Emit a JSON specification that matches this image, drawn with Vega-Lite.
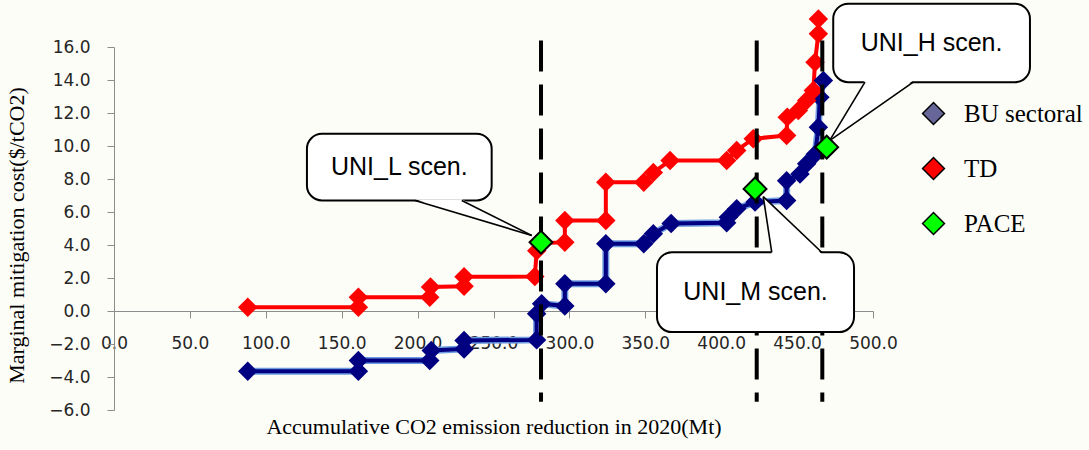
{
  "$schema": "https://vega.github.io/schema/vega-lite/v6.json",
  "width": 759,
  "height": 363,
  "autosize": {"type": "none"},
  "padding": {"left": 114, "top": 47, "right": 216, "bottom": 40},
  "background": "#fdfdf8",
  "config": {
    "view": {"stroke": null},
    "axis": {"grid": false, "labelOverlap": false, "labelFlush": false, "labelBound": false},
    "axisY": {"labelOverlap": false},
    "axisQuantitative": {"labelOverlap": false}
  },
  "datasets": {
    "series": [
      {"series": "BU sectoral", "i": 1, "x": 88.1, "y": -3.65},
      {"series": "BU sectoral", "i": 2, "x": 161.0, "y": -3.65},
      {"series": "BU sectoral", "i": 3, "x": 161.0, "y": -3.0},
      {"series": "BU sectoral", "i": 4, "x": 208.0, "y": -3.0},
      {"series": "BU sectoral", "i": 5, "x": 209.0, "y": -2.39},
      {"series": "BU sectoral", "i": 6, "x": 230.6, "y": -2.3},
      {"series": "BU sectoral", "i": 7, "x": 230.6, "y": -1.79},
      {"series": "BU sectoral", "i": 8, "x": 278.4, "y": -1.75},
      {"series": "BU sectoral", "i": 9, "x": 278.4, "y": -0.17},
      {"series": "BU sectoral", "i": 10, "x": 281.7, "y": 0.44},
      {"series": "BU sectoral", "i": 11, "x": 297.0, "y": 0.3},
      {"series": "BU sectoral", "i": 12, "x": 297.0, "y": 1.65},
      {"series": "BU sectoral", "i": 13, "x": 324.0, "y": 1.65},
      {"series": "BU sectoral", "i": 14, "x": 324.0, "y": 4.07},
      {"series": "BU sectoral", "i": 15, "x": 349.0, "y": 4.07},
      {"series": "BU sectoral", "i": 16, "x": 355.3, "y": 4.68},
      {"series": "BU sectoral", "i": 17, "x": 367.0, "y": 5.3},
      {"series": "BU sectoral", "i": 18, "x": 403.6, "y": 5.35},
      {"series": "BU sectoral", "i": 19, "x": 404.7, "y": 5.68},
      {"series": "BU sectoral", "i": 20, "x": 410.2, "y": 6.19},
      {"series": "BU sectoral", "i": 21, "x": 422.3, "y": 6.6},
      {"series": "BU sectoral", "i": 22, "x": 443.1, "y": 6.7},
      {"series": "BU sectoral", "i": 23, "x": 443.1, "y": 7.9},
      {"series": "BU sectoral", "i": 24, "x": 451.9, "y": 8.31},
      {"series": "BU sectoral", "i": 25, "x": 456.3, "y": 8.92},
      {"series": "BU sectoral", "i": 26, "x": 461.9, "y": 9.5},
      {"series": "BU sectoral", "i": 27, "x": 464.0, "y": 11.14},
      {"series": "BU sectoral", "i": 28, "x": 465.0, "y": 12.96},
      {"series": "BU sectoral", "i": 29, "x": 467.3, "y": 13.97},
      {"series": "TD", "i": 1, "x": 88.1, "y": 0.23},
      {"series": "TD", "i": 2, "x": 161.0, "y": 0.23},
      {"series": "TD", "i": 3, "x": 161.0, "y": 0.84},
      {"series": "TD", "i": 4, "x": 208.0, "y": 0.84},
      {"series": "TD", "i": 5, "x": 208.5, "y": 1.45},
      {"series": "TD", "i": 6, "x": 230.6, "y": 1.5},
      {"series": "TD", "i": 7, "x": 230.6, "y": 2.07},
      {"series": "TD", "i": 8, "x": 277.2, "y": 2.09},
      {"series": "TD", "i": 9, "x": 278.5, "y": 3.65},
      {"series": "TD", "i": 10, "x": 281.3, "y": 4.1},
      {"series": "TD", "i": 11, "x": 297.0, "y": 4.17},
      {"series": "TD", "i": 12, "x": 297.0, "y": 5.48},
      {"series": "TD", "i": 13, "x": 324.0, "y": 5.48},
      {"series": "TD", "i": 14, "x": 324.0, "y": 7.8},
      {"series": "TD", "i": 15, "x": 349.0, "y": 7.8},
      {"series": "TD", "i": 16, "x": 355.3, "y": 8.4},
      {"series": "TD", "i": 17, "x": 366.3, "y": 9.12},
      {"series": "TD", "i": 18, "x": 403.6, "y": 9.12},
      {"series": "TD", "i": 19, "x": 410.2, "y": 9.73},
      {"series": "TD", "i": 20, "x": 421.1, "y": 10.44},
      {"series": "TD", "i": 21, "x": 443.1, "y": 10.64},
      {"series": "TD", "i": 22, "x": 443.5, "y": 11.75},
      {"series": "TD", "i": 23, "x": 450.8, "y": 12.15},
      {"series": "TD", "i": 24, "x": 456.3, "y": 12.76},
      {"series": "TD", "i": 25, "x": 460.7, "y": 13.36},
      {"series": "TD", "i": 26, "x": 461.8, "y": 15.08},
      {"series": "TD", "i": 27, "x": 464.0, "y": 16.8},
      {"series": "TD", "i": 28, "x": 464.0, "y": 17.7}
    ],
    "pace": [
      {"series": "PACE", "x": 281.3, "y": 4.17},
      {"series": "PACE", "x": 422.3, "y": 7.4},
      {"series": "PACE", "x": 469.5, "y": 9.93}
    ],
    "vlines": [{"x": 281.3, "y": 16.4, "y2": -5.5}, {"x": 423.4, "y": 16.4, "y2": -5.5}, {"x": 466.6, "y": 16.4, "y2": -5.5}],
    "boxes": [
      {"id": "L", "x": 127.1, "x2": 248.8, "y": 10.74, "y2": 6.70, "label": "UNI_L scen."},
      {"id": "M", "x": 357.7, "x2": 487.5, "y": 3.56, "y2": -1.28, "label": "UNI_M scen."},
      {"id": "H", "x": 473.8, "x2": 603.4, "y": 18.62, "y2": 13.87, "label": "UNI_H scen."}
    ],
    "pointers": [
      {"id": "L", "x": 198.3, "y": 6.78, "y2": 6.78},
      {"id": "L", "x": 229.1, "y": 6.78, "y2": 5.9},
      {"id": "L", "x": 275.2, "y": 4.58, "y2": 4.58},
      {"id": "M", "x": 427.7, "y": 6.93, "y2": 6.93},
      {"id": "M", "x": 433.3, "y": 6.425, "y2": 3.46},
      {"id": "M", "x": 466.2, "y": 3.46, "y2": 3.46},
      {"id": "H", "x": 471.4, "y": 10.33, "y2": 10.33},
      {"id": "H", "x": 494.7, "y": 11.87, "y2": 13.97},
      {"id": "H", "x": 526.5, "y": 13.97, "y2": 13.97}
    ],
    "edges": [
      {"x": 198.3, "y": 6.70, "x2": 275.2, "y2": 4.58},
      {"x": 229.1, "y": 6.70, "x2": 275.2, "y2": 4.58},
      {"x": 433.3, "y": 3.56, "x2": 427.7, "y2": 6.93},
      {"x": 466.2, "y": 3.56, "x2": 427.7, "y2": 6.93},
      {"x": 494.7, "y": 13.87, "x2": 471.4, "y2": 10.33},
      {"x": 526.5, "y": 13.87, "x2": 471.4, "y2": 10.33}
    ]
  },
  "encoding": {
    "x": {
      "field": "x", "type": "quantitative",
      "scale": {"domain": [0, 500], "nice": false, "zero": false},
      "axis": {
        "title": "Accumulative CO2 emission reduction in 2020(Mt)",
        "values": [0, 50, 100, 150, 200, 250, 300, 350, 400, 450, 500],
        "format": ".1f", "offset": -99, "tickSize": 7, "labelPadding": 17,
        "labelFont": "DejaVu Sans", "labelFontSize": 17, "labelColor": "#262626",
        "labelFlush": false, "labelOverlap": false, "labelBaseline": "top",
        "domainColor": "#8c8c8c", "tickColor": "#8c8c8c",
        "titleFont": "Liberation Serif", "titleFontSize": 22, "titleFontWeight": "normal",
        "titleColor": "#000000", "titleY": 122, "titleBaseline": "alphabetic"
      }
    },
    "y": {
      "field": "y", "type": "quantitative",
      "scale": {"domain": [-6, 16], "nice": false, "zero": false},
      "axis": {
        "title": "Marginal mitigation cost($/tCO2)",
        "values": [-6, -4, -2, 0, 2, 4, 6, 8, 10, 12, 14, 16],
        "format": ".1f", "tickSize": 7, "labelPadding": 17,
        "labelFont": "DejaVu Sans", "labelFontSize": 17, "labelColor": "#262626",
        "labelFlush": false, "labelOverlap": false, "labelBound": false,
        "domainColor": "#8c8c8c", "tickColor": "#8c8c8c",
        "titleFont": "Liberation Serif", "titleFontSize": 22, "titleFontWeight": "normal",
        "titleColor": "#000000", "titleX": -91, "titleY": 188, "titleAngle": -90,
        "titleBaseline": "alphabetic"
      }
    }
  },
  "layer": [
    {
      "data": {"name": "series"},
      "transform": [{"filter": "datum.series === 'BU sectoral'"}],
      "mark": {"type": "line", "color": "#6f9be0", "strokeWidth": 7},
      "encoding": {"order": {"field": "i"}}
    },
    {
      "data": {"name": "series"},
      "transform": [{"filter": "datum.series === 'BU sectoral'"}],
      "mark": {"type": "line", "color": "#000080", "strokeWidth": 4},
      "encoding": {"order": {"field": "i"}}
    },
    {
      "data": {"name": "series"},
      "transform": [{"filter": "datum.series === 'TD'"}],
      "mark": {"type": "line", "color": "#ff0000", "strokeWidth": 4},
      "encoding": {"order": {"field": "i"}}
    },
    {
      "data": {"name": "series"},
      "transform": [{"filter": "datum.series === 'BU sectoral'"}],
      "mark": {"type": "point", "shape": "diamond", "filled": true, "opacity": 1, "color": "#000080", "size": 380}
    },
    {
      "data": {"name": "series"},
      "transform": [{"filter": "datum.series === 'TD'"}],
      "mark": {"type": "point", "shape": "diamond", "filled": true, "opacity": 1, "color": "#ff0000", "size": 380}
    },
    {
      "data": {"name": "vlines"},
      "mark": {"type": "rule", "color": "#000000", "strokeWidth": 4, "strokeDash": [31, 13]},
      "encoding": {"y2": {"field": "y2"}}
    },
    {
      "data": {"name": "boxes"},
      "mark": {"type": "rect", "fill": "#ffffff", "stroke": "#000000", "strokeWidth": 2, "cornerRadius": 15},
      "encoding": {"x2": {"field": "x2"}, "y2": {"field": "y2"}}
    },
    {
      "data": {"name": "pointers"},
      "mark": {"type": "area", "fill": "#ffffff", "opacity": 1},
      "encoding": {"y2": {"field": "y2"}, "detail": {"field": "id"}}
    },
    {
      "data": {"name": "edges"},
      "mark": {"type": "rule", "color": "#000000", "strokeWidth": 1.6},
      "encoding": {"x2": {"field": "x2"}, "y2": {"field": "y2"}}
    },
    {
      "data": {"name": "boxes"},
      "transform": [
        {"calculate": "(datum.x + datum.x2) / 2", "as": "x"},
        {"calculate": "(datum.y + datum.y2) / 2", "as": "y"}
      ],
      "mark": {"type": "text", "font": "Liberation Sans", "fontSize": 25, "color": "#000000", "align": "center", "baseline": "middle"},
      "encoding": {"text": {"field": "label"}}
    },
    {
      "data": {"name": "pace"},
      "mark": {"type": "point", "shape": "diamond", "filled": true, "opacity": 1, "stroke": "#000000", "strokeWidth": 2, "size": 520},
      "encoding": {
        "color": {
          "field": "series", "type": "nominal",
          "scale": {"domain": ["BU sectoral", "TD", "PACE"], "range": ["#666699", "#ff0000", "#00ff00"]},
          "legend": {
            "title": null, "orient": "none", "legendX": 807, "legendY": 54,
            "symbolType": "diamond", "symbolSize": 480, "padding": 0,
            "labelFont": "Liberation Serif", "labelFontSize": 25, "labelColor": "#000000",
            "labelOffset": 18, "rowPadding": 26, "symbolStrokeWidth": 1.5, "symbolOpacity": 1,
            "encode": {
              "symbols": {
                "update": {
                  "stroke": [{"test": "datum.value === 'PACE'", "value": "#000000"}, {"value": "transparent"}],
                  "strokeWidth": {"value": 1.5}
                }
              }
            }
          }
        }
      }
    }
  ]
}
